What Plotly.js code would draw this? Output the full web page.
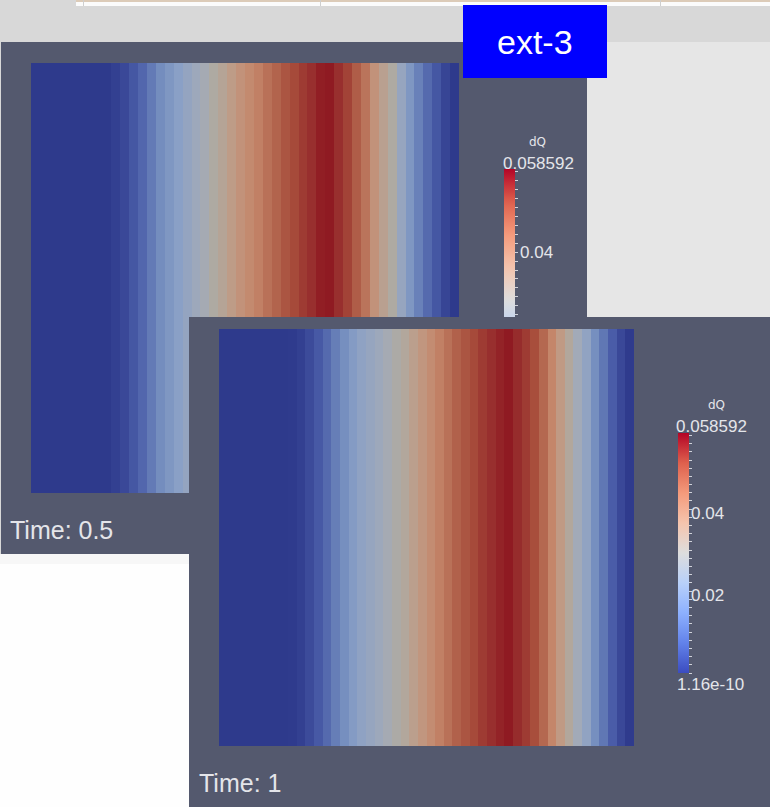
<!DOCTYPE html>
<html><head><meta charset="utf-8">
<script src="https://cdn.plot.ly/plotly-3.0.1.min.js"></script>
<style>html,body{margin:0;padding:0;background:#d8d8d8;overflow:hidden}#chart{width:770px;height:807px}</style>
</head><body><div id="chart"></div>
<script>
// ---- data ----
const variableName = 'dQ';
const timeLabels = ['Time: 0.5', 'Time: 1'];
const dQ_t05 = [0,0,0,0,0,0,0,0,0,0.0012,0.0029,0.0059,0.0088,0.0123,0.0158,0.0182,0.0205,0.0229,0.0252,0.0270,0.0293,0.0316,0.0346,0.0375,0.0398,0.0422,0.0451,0.0475,0.0498,0.0516,0.0539,0.0557,0.0580,0.0586,0.0557,0.0527,0.0486,0.0445,0.0375,0.0328,0.0293,0.0234,0.0182,0.0135,0.0094,0.0059,0.0023,0];
const dQ_t1  = [0,0,0,0,0,0,0,0,0.0003,0.0012,0.0035,0.0064,0.0094,0.0129,0.0164,0.0193,0.0217,0.0234,0.0252,0.0270,0.0287,0.0305,0.0334,0.0363,0.0393,0.0422,0.0451,0.0480,0.0498,0.0516,0.0539,0.0557,0.0574,0.0586,0.0562,0.0539,0.0510,0.0469,0.0410,0.0352,0.0305,0.0264,0.0223,0.0164,0.0117,0.0070,0.0029,0.0003];
const dQ_min = 1.16e-10;
const dQ_max = 0.058592;
const colorbarTickVals = [0.058592, 0.04, 0.02, 1.16e-10];
const colorbarTickText = ['0.058592', '0.04', '0.02', '1.16e-10'];
const badgeText = 'ext-3';

// ---- styling helpers ----
const W = 770, H = 807;
const fx = p => p / W;
const fy = p => 1 - p / H;
const PANEL = '#54596e';
const TXT = '#e4e5ea';

// ParaView "Cool to Warm" (bright, as in the colour legend)
const coolWarm = [
  [0, [59,76,192]], [0.125, [98,130,234]], [0.25, [141,176,254]], [0.375, [184,208,249]],
  [0.5, [221,221,221]], [0.625, [245,196,173]], [0.75, [244,154,123]], [0.875, [222,96,77]], [1, [180,4,38]]
];
// same map as it appears on the lit surface (darker)
const coolWarmLit = [
  [0, [46,58,140]], [0.12, [74,92,168]], [0.25, [110,136,188]], [0.35, [138,160,198]],
  [0.45, [162,170,184]], [0.5, [174,170,162]], [0.6, [192,154,132]], [0.7, [196,134,106]],
  [0.8, [180,104,80]], [0.87, [168,78,60]], [0.94, [154,52,48]], [1, [143,26,34]]
];
const toPlotly = sc => sc.map(([p, c]) => [p, `rgb(${c[0]},${c[1]},${c[2]})`]);
function sample(sc, s) {
  for (let i = 1; i < sc.length; i++) {
    if (s <= sc[i][0]) {
      const [p0, c0] = sc[i-1], [p1, c1] = sc[i];
      const t = (s - p0) / (p1 - p0);
      return c0.map((v, k) => Math.round(v + (c1[k] - v) * t));
    }
  }
  return sc[sc.length-1][1];
}
// first legend is partly hidden by the second window: only its top part shows
const cb1Full = 262, cb1Visible = 148;
const cb1Min = dQ_max * (1 - cb1Visible / cb1Full);
const s0 = cb1Min / dQ_max;
const subScale = [];
for (let i = 0; i <= 20; i++) {
  const s = s0 + (1 - s0) * i / 20;
  subScale.push([i / 20, sample(coolWarm, s)]);
}

const cbCommon = {
  thickness: 11, thicknessmode: 'pixels', lenmode: 'pixels', xanchor: 'left', yanchor: 'top',
  xpad: 0, ypad: 0, outlinewidth: 0, borderwidth: 0, bgcolor: 'rgba(0,0,0,0)',
  ticks: 'outside', ticklen: 3, tickwidth: 1, tickcolor: '#d0d2da',
  tick0: 0, dtick: 0.002, showticklabels: false, title: {text: ''}
};

const heatCommon = {
  type: 'heatmap', colorscale: toPlotly(coolWarmLit), zmin: 0, zmax: dQ_max,
  zsmooth: false, showscale: false, hoverinfo: 'skip'
};

const traces = [
  Object.assign({}, heatCommon, {z: [dQ_t05, dQ_t05], xaxis: 'x', yaxis: 'y'}),
  Object.assign({}, heatCommon, {z: [dQ_t05, dQ_t05], xaxis: 'x2', yaxis: 'y2'}),
  Object.assign({}, heatCommon, {z: [dQ_t1, dQ_t1], xaxis: 'x3', yaxis: 'y3'}),
  {type: 'scatter', mode: 'markers', x: [0, 0], y: [0, 0], xaxis: 'x4', yaxis: 'y4', hoverinfo: 'skip',
   marker: {size: 1, opacity: 0, color: [cb1Min, dQ_max], cmin: cb1Min, cmax: dQ_max,
     colorscale: toPlotly(subScale), showscale: true,
     colorbar: Object.assign({}, cbCommon, {x: fx(504), y: fy(169), len: cb1Visible})}},
  {type: 'scatter', mode: 'markers', x: [0, 0], y: [0, 0], xaxis: 'x4', yaxis: 'y4', hoverinfo: 'skip',
   marker: {size: 1, opacity: 0, color: [dQ_min, dQ_max], cmin: 0, cmax: dQ_max,
     colorscale: toPlotly(coolWarm), showscale: true,
     colorbar: Object.assign({}, cbCommon, {x: fx(678), y: fy(433), len: 240})}}
];

const hidden = {visible: false, showgrid: false, zeroline: false, fixedrange: true};
const n = dQ_t05.length;
const layout = {
  width: W, height: H, margin: {l: 0, r: 0, t: 0, b: 0},
  paper_bgcolor: '#d8d8d8', plot_bgcolor: 'rgba(0,0,0,0)', showlegend: false,
  xaxis:  Object.assign({}, hidden, {domain: [fx(31), fx(459)], range: [-0.5, n - 0.5]}),
  yaxis:  Object.assign({}, hidden, {domain: [fy(317), fy(63)], range: [-0.5, 1.5]}),
  xaxis2: Object.assign({}, hidden, {domain: [fx(31), fx(189)], range: [-0.5, -0.5 + n * 158 / 428], anchor: 'y2'}),
  yaxis2: Object.assign({}, hidden, {domain: [fy(493), fy(317)], range: [-0.5, 1.5], anchor: 'x2'}),
  xaxis3: Object.assign({}, hidden, {domain: [fx(219), fx(634)], range: [-0.5, dQ_t1.length - 0.5], anchor: 'y3'}),
  yaxis3: Object.assign({}, hidden, {domain: [fy(746), fy(329)], range: [-0.5, 1.5], anchor: 'x3'}),
  xaxis4: Object.assign({}, hidden, {domain: [0, 0.01], anchor: 'y4'}),
  yaxis4: Object.assign({}, hidden, {domain: [0, 0.01], anchor: 'x4'}),
  shapes: [
    // browser strip at top
    {type: 'rect', xref: 'paper', yref: 'paper', x0: fx(76), x1: fx(770), y0: fy(6), y1: fy(0), fillcolor: '#fbfbfb', line: {width: 0}, layer: 'below'},
    {type: 'rect', xref: 'paper', yref: 'paper', x0: fx(76), x1: fx(770), y0: fy(2), y1: fy(0), fillcolor: '#dccbb8', line: {width: 0}, layer: 'below'},
    {type: 'rect', xref: 'paper', yref: 'paper', x0: fx(83), x1: fx(84), y0: fy(6), y1: fy(0), fillcolor: '#cfcfcf', line: {width: 0}, layer: 'below'},
    {type: 'rect', xref: 'paper', yref: 'paper', x0: fx(320), x1: fx(321), y0: fy(6), y1: fy(0), fillcolor: '#cfcfcf', line: {width: 0}, layer: 'below'},
    {type: 'rect', xref: 'paper', yref: 'paper', x0: fx(660), x1: fx(661), y0: fy(6), y1: fy(0), fillcolor: '#cfcfcf', line: {width: 0}, layer: 'below'},
    // light area right of first window
    {type: 'rect', xref: 'paper', yref: 'paper', x0: fx(587), x1: fx(770), y0: fy(317), y1: fy(42), fillcolor: '#e6e6e6', line: {width: 0}, layer: 'below'},
    // white area under first window
    {type: 'rect', xref: 'paper', yref: 'paper', x0: fx(0), x1: fx(190), y0: fy(807), y1: fy(554), fillcolor: '#fefefe', line: {width: 0}, layer: 'below'},
    {type: 'rect', xref: 'paper', yref: 'paper', x0: fx(0), x1: fx(190), y0: fy(564), y1: fy(554), fillcolor: '#f7f7f7', line: {width: 0}, layer: 'below'},
    // window 1
    {type: 'rect', xref: 'paper', yref: 'paper', x0: fx(1), x1: fx(587), y0: fy(554), y1: fy(42), fillcolor: PANEL, line: {width: 0}, layer: 'below'},
    // window 2
    {type: 'rect', xref: 'paper', yref: 'paper', x0: fx(189), x1: fx(770), y0: fy(807), y1: fy(317), fillcolor: PANEL, line: {width: 0}, layer: 'below'},
    // badge
    {type: 'rect', xref: 'paper', yref: 'paper', x0: fx(463), x1: fx(607), y0: fy(78), y1: fy(5), fillcolor: '#0000ff', line: {width: 0}, layer: 'below'}
  ],
  annotations: [
    {text: badgeText, x: fx(535), y: fy(42), xanchor: 'center', yanchor: 'middle', font: {family: 'Liberation Sans, Arial', size: 34, color: '#ffffff'}},
    {text: timeLabels[0], x: fx(9), y: fy(530), xanchor: 'left', yanchor: 'middle', font: {family: 'Liberation Sans, Arial', size: 25, color: TXT}},
    {text: timeLabels[1], x: fx(198), y: fy(783), xanchor: 'left', yanchor: 'middle', font: {family: 'Liberation Sans, Arial', size: 25, color: TXT}},
    // legend 1
    {text: variableName, x: fx(537), y: fy(142), xanchor: 'center', yanchor: 'middle', font: {family: 'DejaVu Sans', size: 12, color: TXT}},
    {text: colorbarTickText[0], x: fx(502), y: fy(163), xanchor: 'left', yanchor: 'middle', font: {family: 'Liberation Sans, Arial', size: 17, color: TXT}},
    {text: colorbarTickText[1], x: fx(519), y: fy(252), xanchor: 'left', yanchor: 'middle', font: {family: 'Liberation Sans, Arial', size: 17, color: TXT}},
    // legend 2
    {text: variableName, x: fx(716), y: fy(405), xanchor: 'center', yanchor: 'middle', font: {family: 'DejaVu Sans', size: 12, color: TXT}},
    {text: colorbarTickText[0], x: fx(675), y: fy(427), xanchor: 'left', yanchor: 'middle', font: {family: 'Liberation Sans, Arial', size: 17, color: TXT}},
    {text: colorbarTickText[1], x: fx(690), y: fy(513), xanchor: 'left', yanchor: 'middle', font: {family: 'Liberation Sans, Arial', size: 17, color: TXT}},
    {text: colorbarTickText[2], x: fx(690), y: fy(595), xanchor: 'left', yanchor: 'middle', font: {family: 'Liberation Sans, Arial', size: 17, color: TXT}},
    {text: colorbarTickText[3], x: fx(676), y: fy(684), xanchor: 'left', yanchor: 'middle', font: {family: 'Liberation Sans, Arial', size: 17, color: TXT}}
  ].map(a => Object.assign({xref: 'paper', yref: 'paper', showarrow: false, borderpad: 0}, a))
};

Plotly.newPlot('chart', traces, layout, {displayModeBar: false, staticPlot: true});
</script>
</body></html>
